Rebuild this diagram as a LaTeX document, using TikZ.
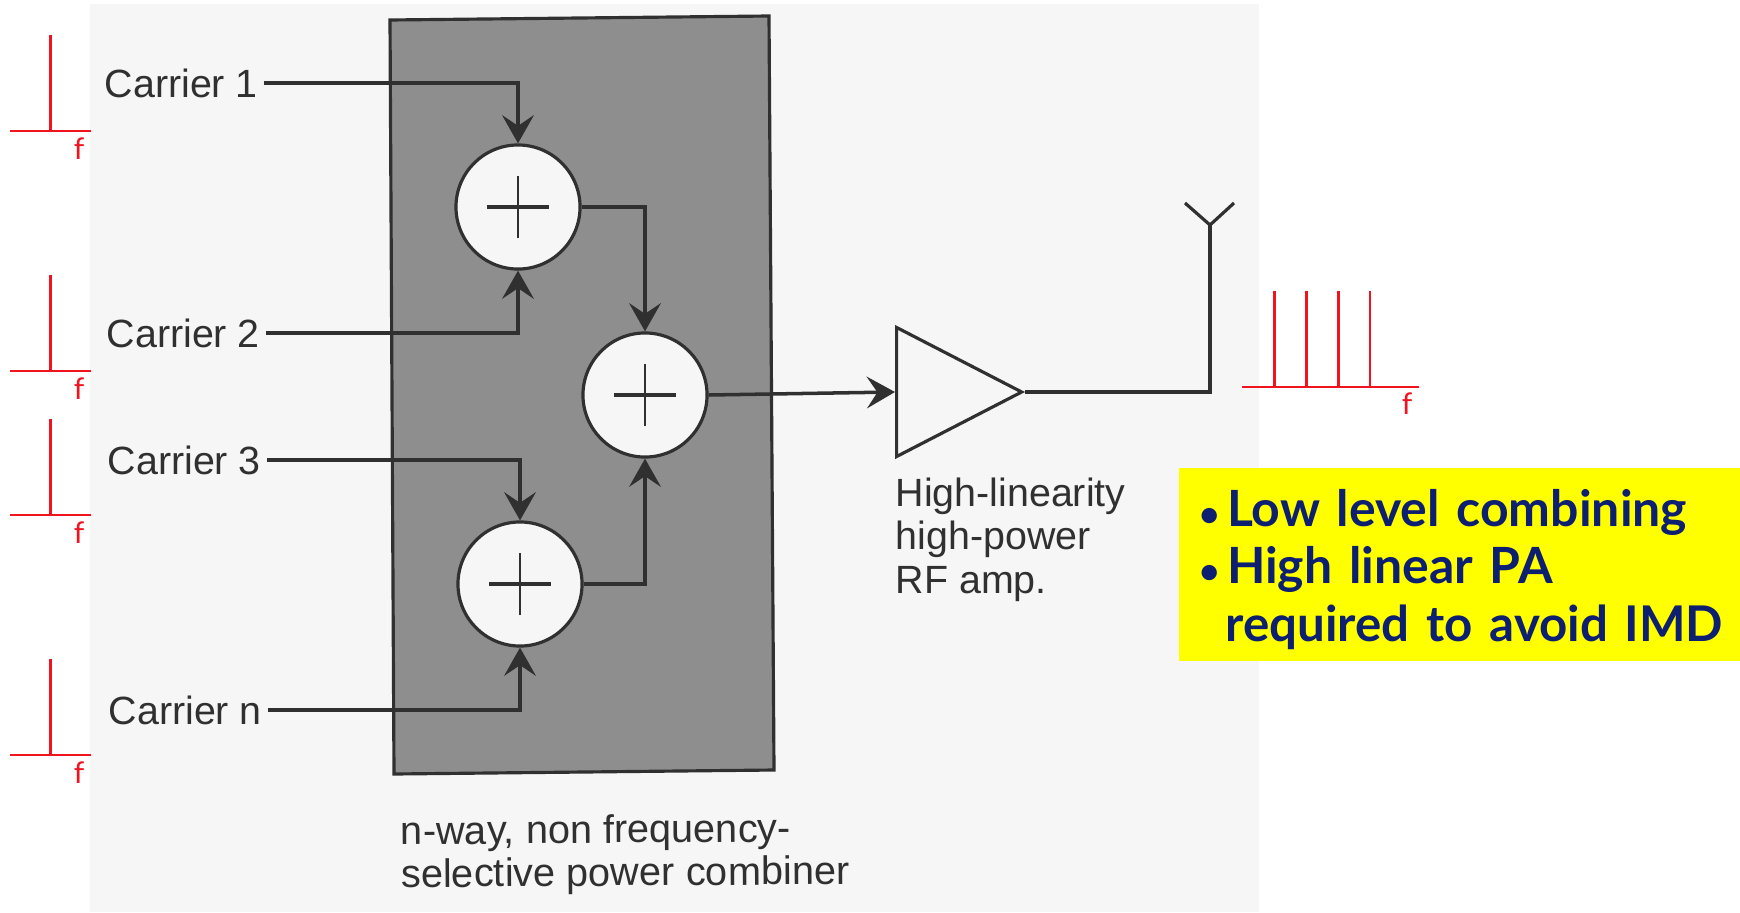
\documentclass[tikz,border=0pt]{standalone}
\usepackage{fontspec}
\setmainfont{Liberation Sans}
\newfontfamily\notefont{Lato}
\usetikzlibrary{arrows.meta,shapes.geometric}
\definecolor{paper}{HTML}{F6F6F6}
\definecolor{boxgray}{HTML}{8E8E8E}
\definecolor{inkgray}{HTML}{303030}
\definecolor{notenavy}{HTML}{0C1F70}
\definecolor{noteyellow}{HTML}{FFFF00}
\definecolor{specred}{HTML}{F0141E}
\tikzset{
  carrierlabel/.style={anchor=west, inner ysep=0pt, inner xsep=0.05cm, text depth=0pt, text=inkgray, font=\fontsize{11.2}{12.2}\selectfont},
  sumnode/.style={circle, draw=inkgray, line width=0.9pt, fill=paper, minimum size=1.24cm, inner sep=0pt,
    path picture={\draw[inkgray, line width=0.9pt] ([xshift=-0.31cm]path picture bounding box.center) -- ([xshift=0.31cm]path picture bounding box.center);
      \draw[inkgray, line width=0.7pt] ([yshift=-0.31cm]path picture bounding box.center) -- ([yshift=0.31cm]path picture bounding box.center);}},
  wire/.style={inkgray, line width=1pt},
  arrowwire/.style={wire, -{Stealth[length=8pt, width=9pt, inset=3pt]}},
  spectrum/.style={specred, line width=0.6pt},
  flabel/.style={specred, font=\notefont\fontsize{8.5}{10}\selectfont, inner sep=0pt}
}
\begin{document}
\begin{tikzpicture}[x=0.01cm, y=-0.01cm]
  \useasboundingbox (0,0) rectangle (1740,912);

  % scanned page and combiner box
  \fill[paper] (90,4) rectangle (1259,912);
  \draw[inkgray, fill=boxgray, line width=0.9pt] (390,20) -- (769,16) -- (774,770) -- (394,774) -- cycle;

  % carriers
  \node[carrierlabel] (c1) at (99,83) {Carrier 1};
  \node[carrierlabel] (c2) at (101,333) {Carrier 2};
  \node[carrierlabel] (c3) at (102,460) {Carrier 3};
  \node[carrierlabel] (cn) at (103,710) {Carrier n};

  % summing junctions
  \node[sumnode] (s1) at (518,207) {};
  \node[sumnode] (s2) at (645,395) {};
  \node[sumnode] (s3) at (520,584) {};

  % amplifier and antenna
  \node[isosceles triangle, isosceles triangle apex angle=55, isosceles triangle stretches, draw=inkgray, line width=0.9pt,
    minimum width=1.29cm, minimum height=1.25cm, inner sep=0pt, anchor=lower side] (amp) at (895,392) {};
  \coordinate (ant) at (1210,225);
  \coordinate (antl) at (1185,203);
  \coordinate (antr) at (1234,203);

  % connections
  \draw[arrowwire] (c1.east) -| (s1.north);
  \draw[arrowwire] (c2.east) -| (s1.south);
  \draw[arrowwire] (c3.east) -| (s3.north);
  \draw[arrowwire] (cn.east) -| (s3.south);
  \draw[arrowwire] (s1.east) -| (s2.north);
  \draw[arrowwire] (s3.east) -| (s2.south);
  \draw[arrowwire] (s2.east) -- (amp.lower side);
  \draw[wire] (amp.apex) -| (ant);
  \draw[inkgray, line width=0.9pt] (antl) -- (ant) -- (antr);

  % captions
  \node[anchor=north west, align=left, inner sep=0pt, text=inkgray, font=\fontsize{11.2}{12.4}\selectfont] (amplabel) at (895,477) {High-linearity\\high-power\\RF amp.};
  \node[anchor=north west, align=left, inner sep=0pt, rotate=0.4, text=inkgray, font=\fontsize{11.3}{12.2}\selectfont] (combinerlabel) at (400,815) {n-way, non frequency-\\selective power combiner};

  % spectra at the inputs
  \draw[spectrum] (10,131) -- (91,131) (50.5,131) -- (50.5,35);
  \node[flabel] (f1) at (79,149) {f};
  \draw[spectrum] (10,371) -- (91,371) (50.5,371) -- (50.5,275);
  \node[flabel] (f2) at (79,389) {f};
  \draw[spectrum] (10,515) -- (91,515) (50.5,515) -- (50.5,419);
  \node[flabel] (f3) at (79,533) {f};
  \draw[spectrum] (10,755) -- (91,755) (50.5,755) -- (50.5,659);
  \node[flabel] (f4) at (79,773) {f};

  % spectrum at the output
  \draw[spectrum] (1242,387) -- (1419,387);
  \draw[spectrum] (1274.5,387) -- (1274.5,291);
  \draw[spectrum] (1306.5,387) -- (1306.5,291);
  \draw[spectrum] (1338.5,387) -- (1338.5,291);
  \draw[spectrum] (1370,387) -- (1370,291);
  \node[flabel] (f5) at (1407,404) {f};

  % yellow note
  \node[anchor=north west, fill=noteyellow, minimum width=5.62cm, minimum height=1.93cm, text width=5.5cm, inner xsep=0.06cm, inner ysep=0pt,
    align=left, text=notenavy, font=\notefont\bfseries\fontsize{14.2}{16.4}\selectfont] (note) at (1178,467)
    {\rule{0pt}{13.5pt}\hspace*{0.15cm}{\fontsize{10}{10}\selectfont•}\hspace{0.07cm}Low level combining\\\hspace*{0.15cm}{\fontsize{10}{10}\selectfont•}\hspace{0.07cm}High linear PA\\\hspace*{0.41cm}{\fontsize{14}{16.4}\selectfont required to avoid IMD}};
\end{tikzpicture}
\end{document}
